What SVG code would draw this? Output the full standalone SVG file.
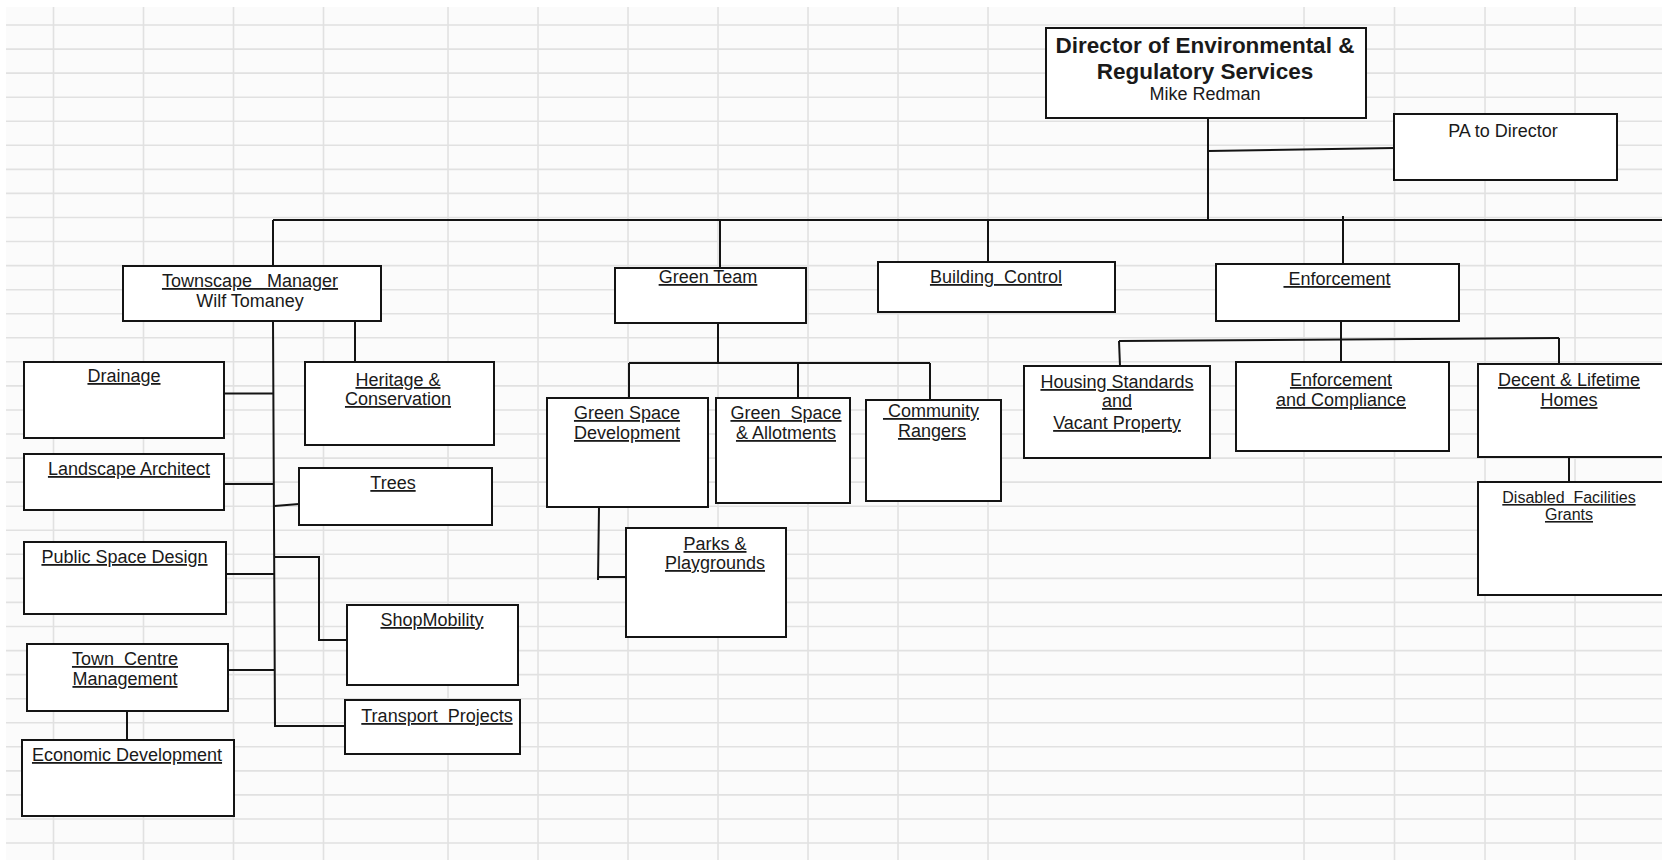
<svg xmlns="http://www.w3.org/2000/svg" width="1662" height="860" viewBox="0 0 1662 860">
<style>
.grid{stroke:#e1e1e1;stroke-width:1.6;fill:none}
.box{fill:#ffffff;stroke:#141414;stroke-width:2}
.con{stroke:#141414;stroke-width:2;fill:none}
text{font-family:"Liberation Sans",Arial,sans-serif;font-size:18px;fill:#1a1a1a;text-anchor:middle;white-space:pre}
.u{text-decoration:underline}
.b{font-weight:bold;font-size:22.5px}
.s{font-size:16px}
</style>
<rect x="0" y="0" width="1662" height="860" fill="#ffffff"/>
<rect x="6" y="7" width="1656" height="853" fill="#fbfbfb"/>
<g id="grid">
<path class="grid" d="M6 25H1662M6 49.1H1662M6 73.1H1662M6 97.2H1662M6 121.2H1662M6 145.3H1662M6 169.4H1662M6 193.4H1662M6 217.5H1662M6 241.5H1662M6 265.6H1662M6 289.7H1662M6 313.7H1662M6 337.8H1662M6 361.8H1662M6 385.9H1662M6 410H1662M6 434H1662M6 458.1H1662M6 482.1H1662M6 506.2H1662M6 530.3H1662M6 554.3H1662M6 578.4H1662M6 602.4H1662M6 626.5H1662M6 650.6H1662M6 674.6H1662M6 698.7H1662M6 722.7H1662M6 746.8H1662M6 770.9H1662M6 794.9H1662M6 819H1662M6 843H1662"/>
<path class="grid" d="M53.5 7V860M143.5 7V860M233.5 7V860M323.5 7V860M448 7V860M538 7V860M628 7V860M718 7V860M808 7V860M898 7V860M988 7V860M1304 7V860M1394.5 7V860M1485 7V860M1575 7V860"/>
</g>
<g id="connectors">
<path class="con" d="M1208 118V220"/>
<path class="con" d="M1208 151L1394 148"/>
<path class="con" d="M273 220H1662"/>
<path class="con" d="M273 220V266"/>
<path class="con" d="M720 220V268"/>
<path class="con" d="M988 220V262"/>
<path class="con" d="M1343 216V264"/>
<path class="con" d="M273 321L275 726H345"/>
<path class="con" d="M355 321V362"/>
<path class="con" d="M224 393.5H273.5"/>
<path class="con" d="M224 484H274"/>
<path class="con" d="M274.5 506L299 504"/>
<path class="con" d="M226 574H274.5"/>
<path class="con" d="M274.5 557H319V640H347"/>
<path class="con" d="M228 670H275"/>
<path class="con" d="M127 711V740"/>
<path class="con" d="M718 323V363"/>
<path class="con" d="M629 363H930"/>
<path class="con" d="M718 363H898" stroke-width="3"/>
<path class="con" d="M629 363V398M798 363V398M930 363V400"/>
<path class="con" d="M599 507L598 580M598 577H626"/>
<path class="con" d="M1341 321V362"/>
<path class="con" d="M1119 341L1559 338"/>
<path class="con" d="M1119 341L1120 366M1559 338V364"/>
<path class="con" d="M1569 457V482"/>
</g>
<g id="director">
<rect class="box" x="1046" y="28" width="320" height="90"/>
<text class="b" x="1205" y="53">Director of Environmental &amp;</text>
<text class="b" x="1205" y="79">Regulatory Services</text>
<text x="1205" y="100">Mike Redman</text>
</g>
<g id="pa-to-director">
<rect class="box" x="1394" y="114" width="223" height="66"/>
<text x="1503" y="137">PA to Director</text>
</g>
<g id="townscape-manager">
<rect class="box" x="123" y="266" width="258" height="55"/>
<text class="u" x="250" y="287">Townscape   Manager</text>
<text x="250" y="307">Wilf Tomaney</text>
</g>
<g id="green-team">
<rect class="box" x="615" y="268" width="191" height="55"/>
<text class="u" x="708" y="283">Green Team</text>
</g>
<g id="building-control">
<rect class="box" x="878" y="262" width="237" height="50"/>
<text class="u" x="996" y="283">Building  Control</text>
</g>
<g id="enforcement">
<rect class="box" x="1216" y="264" width="243" height="57"/>
<text class="u" x="1337" y="285"> Enforcement</text>
</g>
<g id="drainage">
<rect class="box" x="24" y="362" width="200" height="76"/>
<text class="u" x="124" y="382">Drainage</text>
</g>
<g id="heritage-conservation">
<rect class="box" x="305" y="362" width="189" height="83"/>
<text class="u" x="398" y="386">Heritage &amp;</text>
<text class="u" x="398" y="405">Conservation</text>
</g>
<g id="landscape-architect">
<rect class="box" x="24" y="454" width="200" height="56"/>
<text class="u" x="129" y="475">Landscape Architect</text>
</g>
<g id="trees">
<rect class="box" x="299" y="468" width="193" height="57"/>
<text class="u" x="393" y="489">Trees</text>
</g>
<g id="public-space-design">
<rect class="box" x="24" y="542" width="202" height="72"/>
<text class="u" x="124.5" y="563">Public Space Design</text>
</g>
<g id="shopmobility">
<rect class="box" x="347" y="605" width="171" height="80"/>
<text class="u" x="432" y="626">ShopMobility</text>
</g>
<g id="town-centre-management">
<rect class="box" x="27" y="644" width="201" height="67"/>
<text class="u" x="125" y="665">Town  Centre</text>
<text class="u" x="125" y="685">Management</text>
</g>
<g id="transport-projects">
<rect class="box" x="345" y="700" width="175" height="54"/>
<text class="u" x="437" y="722">Transport  Projects</text>
</g>
<g id="economic-development">
<rect class="box" x="22" y="740" width="212" height="76"/>
<text class="u" x="127" y="761">Economic Development</text>
</g>
<g id="green-space-development">
<rect class="box" x="547" y="398" width="161" height="109"/>
<text class="u" x="627" y="419">Green Space</text>
<text class="u" x="627" y="439">Development</text>
</g>
<g id="green-space-allotments">
<rect class="box" x="716" y="398" width="134" height="105"/>
<text class="u" x="786" y="419">Green  Space</text>
<text class="u" x="786" y="439">&amp; Allotments</text>
</g>
<g id="community-rangers">
<rect class="box" x="866" y="400" width="135" height="101"/>
<text class="u" x="931" y="417"> Community</text>
<text class="u" x="932" y="437">Rangers</text>
</g>
<g id="parks-playgrounds">
<rect class="box" x="626" y="528" width="160" height="109"/>
<text class="u" x="715" y="550">Parks &amp;</text>
<text class="u" x="715" y="569">Playgrounds</text>
</g>
<g id="housing-standards">
<rect class="box" x="1024" y="366" width="186" height="92"/>
<text class="u" x="1117" y="388">Housing Standards</text>
<text class="u" x="1117" y="407">and</text>
<text class="u" x="1117" y="429">Vacant Property</text>
</g>
<g id="enforcement-compliance">
<rect class="box" x="1236" y="362" width="213" height="89"/>
<text class="u" x="1341" y="386">Enforcement</text>
<text class="u" x="1341" y="406">and Compliance</text>
</g>
<g id="decent-lifetime-homes">
<rect class="box" x="1478" y="364" width="250" height="93"/>
<text class="u" x="1569" y="386">Decent &amp; Lifetime</text>
<text class="u" x="1569" y="406">Homes</text>
</g>
<g id="disabled-facilities-grants">
<rect class="box" x="1478" y="482" width="250" height="113"/>
<text class="u s" x="1569" y="503">Disabled  Facilities</text>
<text class="u s" x="1569" y="520">Grants</text>
</g>
</svg>
